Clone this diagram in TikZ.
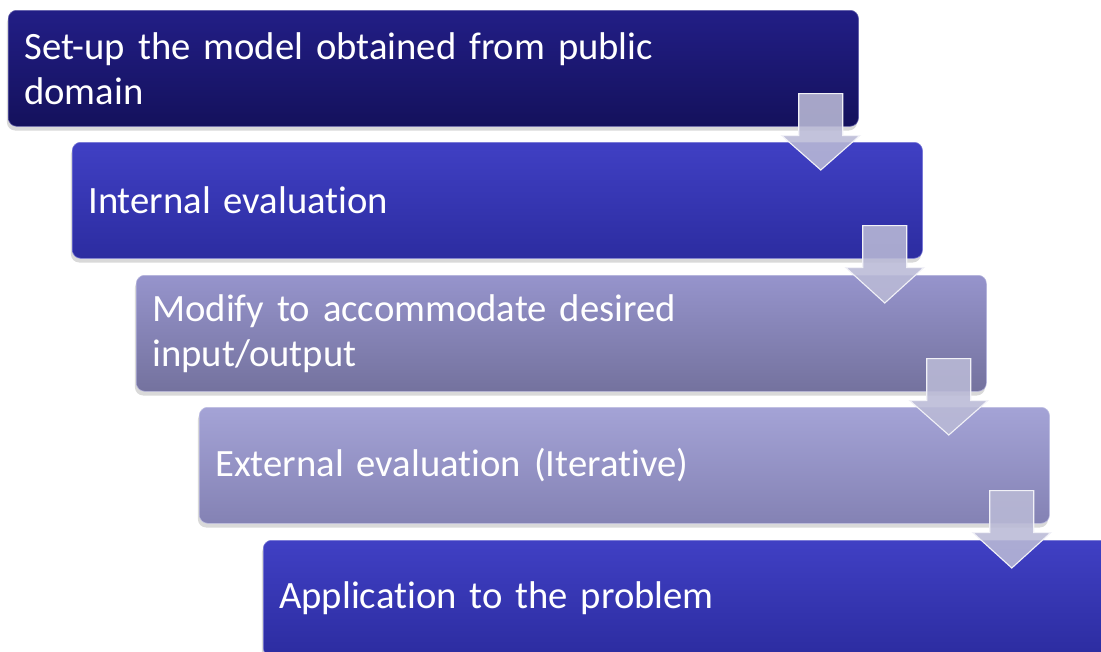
\documentclass[tikz,border=0pt]{standalone}
\usepackage{fontspec}
\setmainfont[Ligatures={NoCommon,NoContextual,NoRare},RawFeature=-calt]{Carlito}
\usetikzlibrary{calc,shadows}

\DeclareRobustCommand{\stagefont}{\fontsize{27.5}{32}\selectfont\spaceskip=0.15em\relax}

\begin{document}
\begin{tikzpicture}[x=0.025cm,y=-0.025cm,
    	 stage/.style={anchor=north west,rounded corners=6pt,
    	   minimum width=21.25cm,minimum height=2.9cm,text width=20.45cm,
    	   inner xsep=0.4cm,inner ysep=0pt,text=white,font=\stagefont,
    	   drop shadow={shadow xshift=-1pt,shadow yshift=-3pt,opacity=0.3}},
    	 flow arrow/.style={fill=arrowgrey,fill opacity=0.88,
    	   draw=white!80!arrowgrey,line width=0.8pt,line join=miter}]

	\definecolor{navytop}{RGB}{34,30,134}
	\definecolor{navybot}{RGB}{20,17,92}
	\definecolor{bluetop}{RGB}{64,64,196}
	\definecolor{bluebot}{RGB}{44,44,160}
	\definecolor{lilactop}{RGB}{150,148,204}
	\definecolor{lilacbot}{RGB}{116,114,158}
	\definecolor{paletop}{RGB}{164,163,214}
	\definecolor{palebot}{RGB}{132,130,180}
	\definecolor{arrowgrey}{RGB}{186,186,214}

	\clip (0,0) rectangle (1101,652);

	\node[stage,top color=navytop,bottom color=navybot,draw=navytop!70!white] at (8,10) (1)
	  {Set-up the model obtained from public\\domain};
	\node[stage,top color=bluetop,bottom color=bluebot,draw=bluetop!70!white] at (72,142) (2)
	  {Internal evaluation};
	\node[stage,top color=lilactop,bottom color=lilacbot,draw=lilactop!70!white] at (136,275) (3)
	  {Modify to accommodate desired\\input/output};
	\node[stage,top color=paletop,bottom color=palebot,draw=paletop!70!white] at (199,407) (4)
	  {External evaluation (Iterative)};
	\node[stage,top color=bluetop,bottom color=bluebot,draw=bluetop!70!white] at (263,540) (5)
	  {Application to the problem};

	% block arrows hanging from each box into the next one
	\foreach \a/\b in {1/2,2/3,3/4,4/5}
	  \draw[flow arrow] ($(\a.south east)+(-60,-33)$) -- ($(\a.south east)+(-16,-33)$)
	    -- ($(\a.south east)+(-16,9)$) -- ($(\a.south east)+(1,9)$)
	    -- ($(\a.south east |- \b.north)+(-38,28)$)
	    -- ($(\a.south east)+(-77,9)$) -- ($(\a.south east)+(-60,9)$) -- cycle;

\end{tikzpicture}
\end{document}
